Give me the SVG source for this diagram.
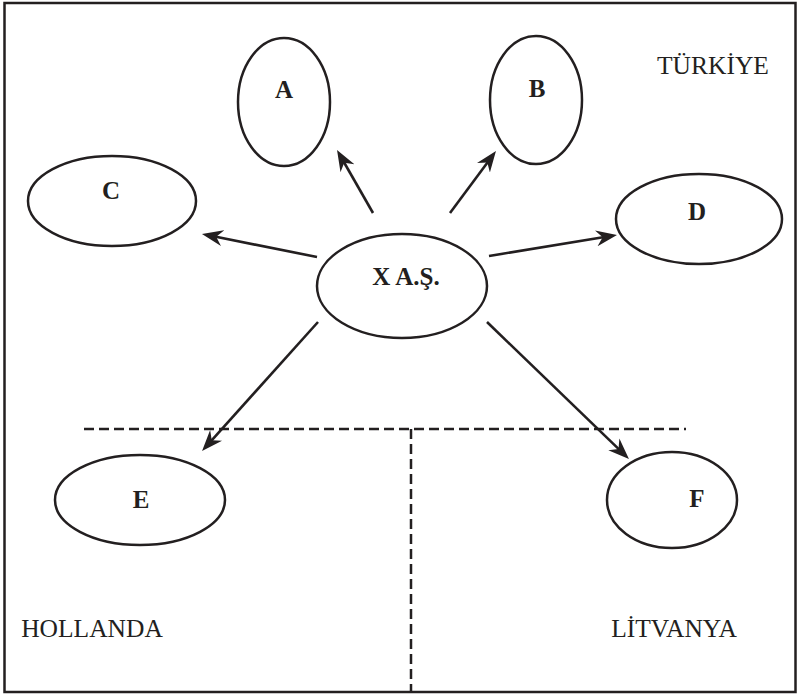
<svg xmlns="http://www.w3.org/2000/svg" width="801" height="695" viewBox="0 0 801 695">
<style>
.node ellipse{fill:#fff;stroke:#231f20;stroke-width:2.5}
.node text{font-family:"Liberation Serif","Times New Roman",serif;font-weight:bold;font-size:25px;fill:#231f20;text-anchor:middle}
.region{font-family:"Liberation Serif","Times New Roman",serif;font-size:25.5px;fill:#231f20;text-anchor:middle}
.conn line{stroke:#231f20;stroke-width:2.6}
.dash{stroke:#231f20;stroke-width:2.5;stroke-dasharray:10 5;fill:none}
</style>
<defs>
<marker id="ah" markerUnits="userSpaceOnUse" markerWidth="24" markerHeight="18" viewBox="0 -9 24 18" refX="13" refY="0" orient="auto">
<path d="M21,0 L0,-8 L6.5,0 L0,8 Z" fill="#231f20"/>
</marker>
</defs>
<rect x="4.5" y="3" width="791" height="689" fill="#fff" stroke="#231f20" stroke-width="2.5"/>
<g id="dividers">
<line class="dash" x1="84" y1="429" x2="686" y2="429"/>
<line class="dash" x1="411" y1="429" x2="411" y2="692"/>
</g>
<g id="connectors" class="conn">
<line x1="373" y1="213" x2="341" y2="157" marker-end="url(#ah)"/>
<line x1="450" y1="213" x2="491.2" y2="157.4" marker-end="url(#ah)"/>
<line x1="317" y1="257" x2="209.8" y2="235.6" marker-end="url(#ah)"/>
<line x1="489" y1="256" x2="609.1" y2="236.3" marker-end="url(#ah)"/>
<line x1="318" y1="322" x2="207.4" y2="445.1" marker-end="url(#ah)"/>
<line x1="487" y1="322" x2="623.2" y2="453.4" marker-end="url(#ah)"/>
</g>
<g id="node-A" class="node"><ellipse cx="284" cy="102" rx="46" ry="64"/><text x="284" y="98">A</text></g>
<g id="node-B" class="node"><ellipse cx="536" cy="100" rx="46" ry="64"/><text x="537" y="97">B</text></g>
<g id="node-C" class="node"><ellipse cx="112" cy="201" rx="84" ry="45"/><text x="111" y="199">C</text></g>
<g id="node-D" class="node"><ellipse cx="699" cy="219" rx="83" ry="45"/><text x="697" y="220">D</text></g>
<g id="node-X" class="node"><ellipse cx="402" cy="286" rx="85" ry="52"/><text x="406" y="285">X A.Ş.</text></g>
<g id="node-E" class="node"><ellipse cx="140" cy="500" rx="85" ry="45"/><text x="141" y="508">E</text></g>
<g id="node-F" class="node"><ellipse cx="672" cy="500" rx="65" ry="48"/><text x="697" y="507">F</text></g>
<text class="region" x="713" y="74">TÜRKİYE</text>
<text class="region" x="92" y="637">HOLLANDA</text>
<text class="region" x="674" y="637">LİTVANYA</text>
</svg>
